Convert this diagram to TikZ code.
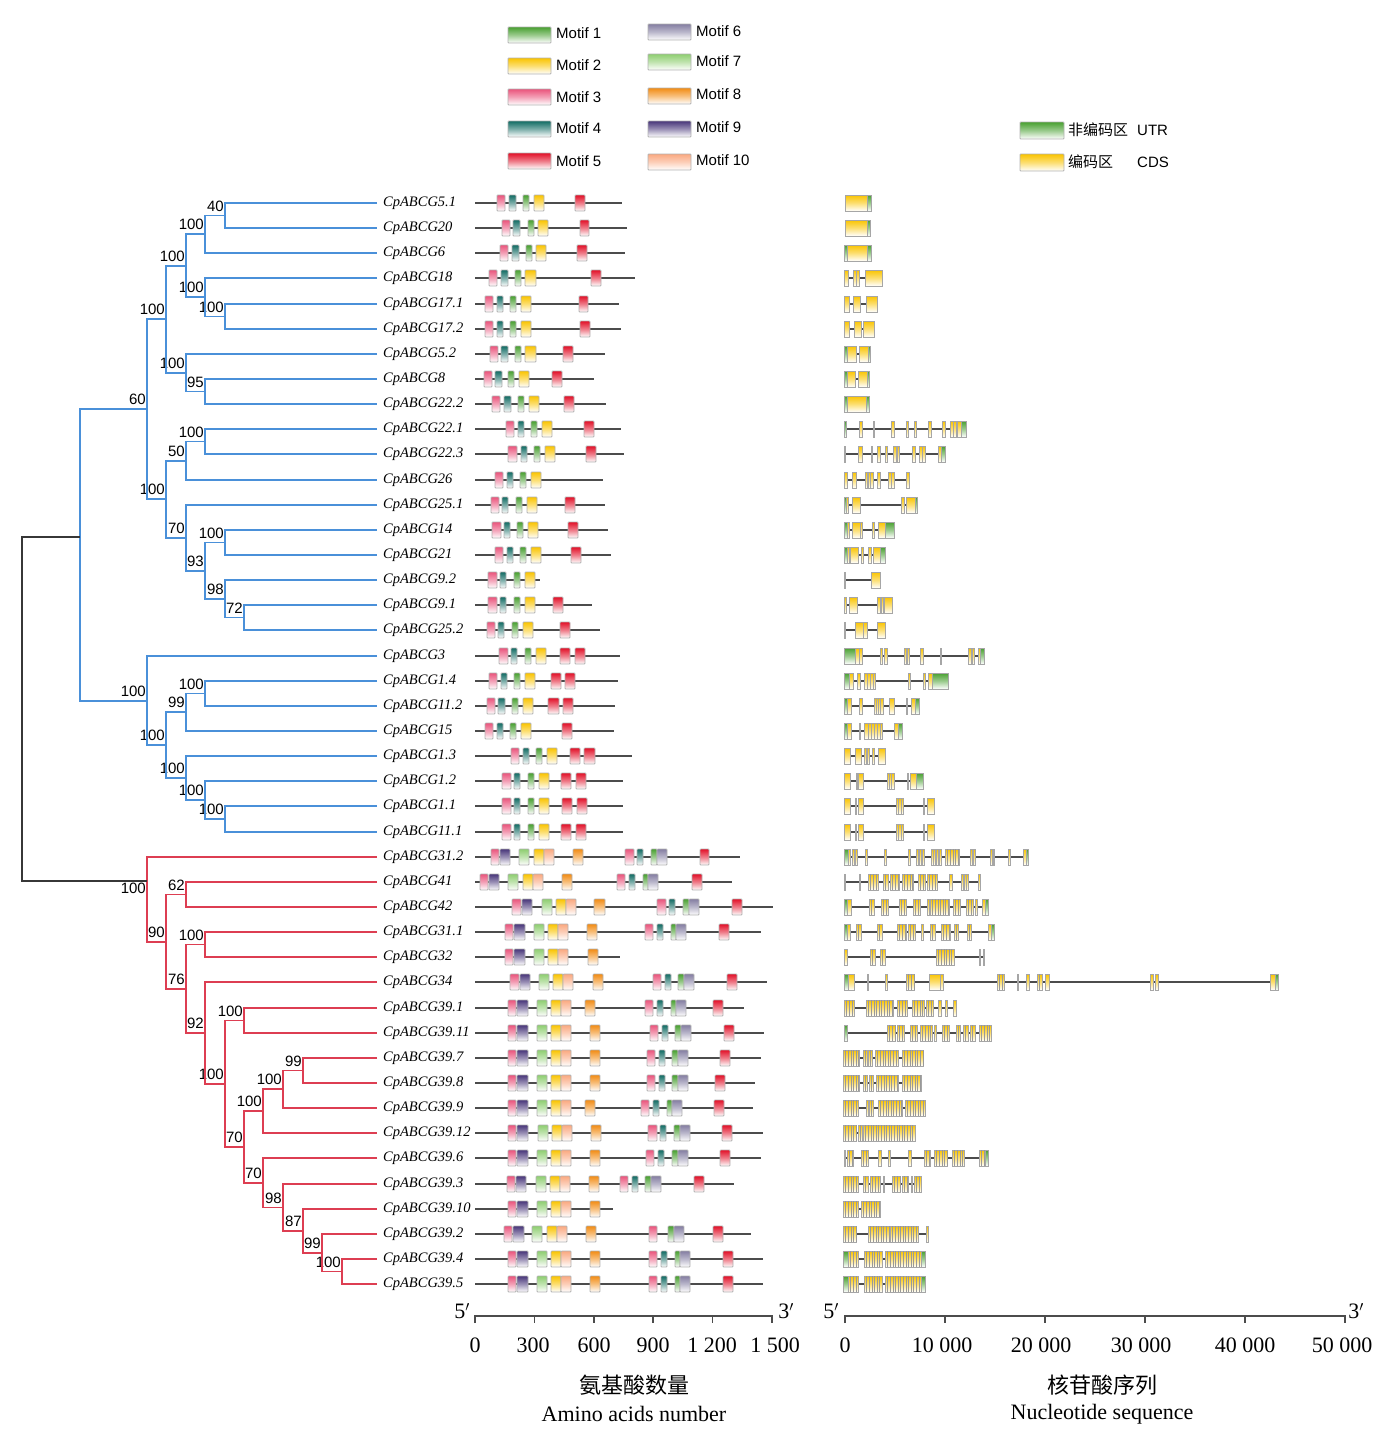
\documentclass[tikz,border=0pt]{standalone}
\usepackage{fontspec}
\setmainfont{Liberation Serif}
\setsansfont{Liberation Sans}
\newfontfamily\cjk{Noto Sans CJK SC}
\usepackage{tikz}

\definecolor{treeblue}{RGB}{74,144,217}
\definecolor{treered}{RGB}{221,62,82}
\definecolor{treeroot}{RGB}{55,55,55}
\definecolor{mc1}{RGB}{72,160,48}
\definecolor{mc2}{RGB}{250,196,0}
\definecolor{mc3}{RGB}{234,84,124}
\definecolor{mc4}{RGB}{18,108,100}
\definecolor{mc5}{RGB}{226,16,40}
\definecolor{mc6}{RGB}{132,126,162}
\definecolor{mc7}{RGB}{142,206,112}
\definecolor{mc8}{RGB}{242,140,20}
\definecolor{mc9}{RGB}{72,54,122}
\definecolor{mc10}{RGB}{250,168,128}
\definecolor{utr}{RGB}{72,160,48}
\definecolor{cds}{RGB}{250,196,0}

\tikzset{
  blu/.style={draw=treeblue, line width=1.8pt},
  rd/.style={draw=treered, line width=1.8pt},
  rt/.style={draw=treeroot, line width=1.8pt},
  leaf/.style={anchor=west, inner xsep=6pt, inner ysep=0pt, font=\fontsize{14.5}{16}\selectfont\itshape},
  bs/.style={anchor=south east, inner sep=0pt, xshift=-1pt, yshift=4pt, font=\sffamily\fontsize{15}{17}\selectfont},
  bsb/.style={anchor=north east, inner sep=0pt, xshift=-1pt, yshift=-2pt, font=\sffamily\fontsize{15}{17}\selectfont},
  pline/.style={draw=black!70, line width=2pt},
  gline/.style={draw=black!70, line width=2pt},
  mbox/.style={draw=black!30, line width=0.8pt, rounded corners=0.8pt},
  exon/.style={draw=black!35, line width=0.7pt},
  stripe/.style={draw=black!40, line width=0.6pt},
  axisline/.style={draw=black!70, line width=1.5pt},
  legtext/.style={anchor=west, inner sep=0pt, font=\sffamily\fontsize{15}{17}\selectfont},
  scaletext/.style={inner sep=0pt, font=\fontsize{22}{26}\selectfont},
  titletext/.style={inner sep=0pt, font=\cjk\fontsize{22}{26}\selectfont},
}

% protein line with motifs
\newcommand{\prot}[3]{%
  \draw[pline] (475,#1) -- (#2,#1);
  \foreach \ty/\xa/\xb in {#3}
    \draw[mbox, top color=mc\ty, bottom color=white, middle color=mc\ty!55] (\xa,#1-8) rectangle (\xb,#1+8);
}
% gene line, exons and packed exon blocks
\newcommand{\gene}[2]{\draw[gline] (845,#1) -- (#2,#1);}
\newcommand{\exons}[2]{%
  \foreach \ty/\xa/\xb in {#2}
    \draw[exon, top color=\ty, bottom color=white, middle color=\ty!55] (\xa,#1-8) rectangle (\xb,#1+8);
}
\newcommand{\dense}[2]{%
  \foreach \xa/\xb in {#2}{
    \draw[exon, top color=cds, bottom color=white, middle color=cds!55] (\xa,#1-8) rectangle (\xb,#1+8);
    \pgfmathtruncatemacro{\nst}{(\xb-\xa)/2.6}
    \foreach \kk in {1,...,\nst}
      \draw[stripe] ({\xa+2.6*\kk},#1-8) -- ({\xa+2.6*\kk},#1+8);
  }
}

\begin{document}
\begin{tikzpicture}[x=1pt,y=-1pt]
    \useasboundingbox (0,0) rectangle (1386,1443);

    % motif legend
    \draw[mbox, top color=mc1, bottom color=white, middle color=mc1!55] (508,27) rectangle (551,43);
    \node[legtext] at (556,33) {Motif 1};
    \draw[mbox, top color=mc2, bottom color=white, middle color=mc2!55] (508,58) rectangle (551,74);
    \node[legtext] at (556,65) {Motif 2};
    \draw[mbox, top color=mc3, bottom color=white, middle color=mc3!55] (508,89) rectangle (551,105);
    \node[legtext] at (556,97) {Motif 3};
    \draw[mbox, top color=mc4, bottom color=white, middle color=mc4!55] (508,121) rectangle (551,137);
    \node[legtext] at (556,128) {Motif 4};
    \draw[mbox, top color=mc5, bottom color=white, middle color=mc5!55] (508,153) rectangle (551,169);
    \node[legtext] at (556,161) {Motif 5};
    \draw[mbox, top color=mc6, bottom color=white, middle color=mc6!55] (648,24) rectangle (691,40);
    \node[legtext] at (696,31) {Motif 6};
    \draw[mbox, top color=mc7, bottom color=white, middle color=mc7!55] (648,54) rectangle (691,70);
    \node[legtext] at (696,61) {Motif 7};
    \draw[mbox, top color=mc8, bottom color=white, middle color=mc8!55] (648,88) rectangle (691,104);
    \node[legtext] at (696,94) {Motif 8};
    \draw[mbox, top color=mc9, bottom color=white, middle color=mc9!55] (648,121) rectangle (691,137);
    \node[legtext] at (696,127) {Motif 9};
    \draw[mbox, top color=mc10, bottom color=white, middle color=mc10!55] (648,154) rectangle (691,170);
    \node[legtext] at (696,160) {Motif 10};

    % gene structure legend
    \draw[mbox, top color=utr, bottom color=white, middle color=utr!55] (1020,122) rectangle (1064,139);
    \node[legtext, font=\cjk\fontsize{15}{17}\selectfont] at (1068,130) {非编码区};
    \node[legtext] at (1137,130) {UTR};
    \draw[mbox, top color=cds, bottom color=white, middle color=cds!55] (1020,154) rectangle (1064,171);
    \node[legtext, font=\cjk\fontsize{15}{17}\selectfont] at (1068,162) {编码区};
    \node[legtext] at (1137,162) {CDS};

    %%%%%%%%%%%%%%%%%%%%%%%%%%%%%%%%%%%%%%%%%%%%%%%%%%%%%%

    % gene names
    \node[leaf] (cp5p1) at (377,203) {CpABCG5.1};
    \node[leaf] (cp20) at (377,228) {CpABCG20};
    \node[leaf] (cp6) at (377,253) {CpABCG6};
    \node[leaf] (cp18) at (377,278) {CpABCG18};
    \node[leaf] (cp17p1) at (377,304) {CpABCG17.1};
    \node[leaf] (cp17p2) at (377,329) {CpABCG17.2};
    \node[leaf] (cp5p2) at (377,354) {CpABCG5.2};
    \node[leaf] (cp8) at (377,379) {CpABCG8};
    \node[leaf] (cp22p2) at (377,404) {CpABCG22.2};
    \node[leaf] (cp22p1) at (377,429) {CpABCG22.1};
    \node[leaf] (cp22p3) at (377,454) {CpABCG22.3};
    \node[leaf] (cp26) at (377,480) {CpABCG26};
    \node[leaf] (cp25p1) at (377,505) {CpABCG25.1};
    \node[leaf] (cp14) at (377,530) {CpABCG14};
    \node[leaf] (cp21) at (377,555) {CpABCG21};
    \node[leaf] (cp9p2) at (377,580) {CpABCG9.2};
    \node[leaf] (cp9p1) at (377,605) {CpABCG9.1};
    \node[leaf] (cp25p2) at (377,630) {CpABCG25.2};
    \node[leaf] (cp3) at (377,656) {CpABCG3};
    \node[leaf] (cp1p4) at (377,681) {CpABCG1.4};
    \node[leaf] (cp11p2) at (377,706) {CpABCG11.2};
    \node[leaf] (cp15) at (377,731) {CpABCG15};
    \node[leaf] (cp1p3) at (377,756) {CpABCG1.3};
    \node[leaf] (cp1p2) at (377,781) {CpABCG1.2};
    \node[leaf] (cp1p1) at (377,806) {CpABCG1.1};
    \node[leaf] (cp11p1) at (377,832) {CpABCG11.1};
    \node[leaf] (cp31p2) at (377,857) {CpABCG31.2};
    \node[leaf] (cp41) at (377,882) {CpABCG41};
    \node[leaf] (cp42) at (377,907) {CpABCG42};
    \node[leaf] (cp31p1) at (377,932) {CpABCG31.1};
    \node[leaf] (cp32) at (377,957) {CpABCG32};
    \node[leaf] (cp34) at (377,982) {CpABCG34};
    \node[leaf] (cp39p1) at (377,1008) {CpABCG39.1};
    \node[leaf] (cp39p11) at (377,1033) {CpABCG39.11};
    \node[leaf] (cp39p7) at (377,1058) {CpABCG39.7};
    \node[leaf] (cp39p8) at (377,1083) {CpABCG39.8};
    \node[leaf] (cp39p9) at (377,1108) {CpABCG39.9};
    \node[leaf] (cp39p12) at (377,1133) {CpABCG39.12};
    \node[leaf] (cp39p6) at (377,1158) {CpABCG39.6};
    \node[leaf] (cp39p3) at (377,1184) {CpABCG39.3};
    \node[leaf] (cp39p10) at (377,1209) {CpABCG39.10};
    \node[leaf] (cp39p2) at (377,1234) {CpABCG39.2};
    \node[leaf] (cp39p4) at (377,1259) {CpABCG39.4};
    \node[leaf] (cp39p5) at (377,1284) {CpABCG39.5};

    % branch points
    \coordinate (b1) at (225,215.5);
    \coordinate (b2) at (205,234.3);
    \coordinate (b3) at (225,316.5);
    \coordinate (b4) at (205,297.3);
    \coordinate (b5) at (186,265.8);
    \coordinate (b6) at (205,391.5);
    \coordinate (b7) at (186,372.8);
    \coordinate (b8) at (166,319.3);
    \coordinate (b9) at (205,441.5);
    \coordinate (b10) at (186,460.8);
    \coordinate (b11) at (225,542.5);
    \coordinate (b12) at (244,617.5);
    \coordinate (b13) at (225,598.8);
    \coordinate (b14) at (205,570.6);
    \coordinate (b15) at (186,537.8);
    \coordinate (b16) at (166,499.3);
    \coordinate (b17) at (147,409.3);
    \coordinate (b18) at (205,693.5);
    \coordinate (b19) at (186,712.3);
    \coordinate (b20) at (225,819);
    \coordinate (b21) at (205,800);
    \coordinate (b22) at (186,778);
    \coordinate (b23) at (166,745.1);
    \coordinate (b24) at (147,700.6);
    \coordinate (b0) at (80,537);
    \coordinate (r16) at (342,1271.5);
    \coordinate (r15) at (322,1252.8);
    \coordinate (r14) at (303,1230.9);
    \coordinate (r13) at (283,1207.4);
    \coordinate (r12) at (303,1070.5);
    \coordinate (r11) at (283,1089.3);
    \coordinate (r10) at (263,1182.7);
    \coordinate (r9) at (263,1111.1);
    \coordinate (r8) at (244,1146.9);
    \coordinate (r7) at (244,1020.5);
    \coordinate (r6) at (225,1083.7);
    \coordinate (r5) at (205,1032.9);
    \coordinate (r4) at (205,944.5);
    \coordinate (r3) at (186,988.7);
    \coordinate (r2) at (186,894.5);
    \coordinate (r1) at (166,941.6);
    \coordinate (r0) at (147,881);
    \coordinate (root) at (22,709);

    % blue clade
    \draw[blu] (cp5p1) -| (b1) |- (cp20);     \node[bs] at (b1) {40};
    \draw[blu] (b1) -| (b2) |- (cp6);         \node[bs] at (b2) {100};
    \draw[blu] (cp17p1) -| (b3) |- (cp17p2);  \node[bs] at (b3) {100};
    \draw[blu] (cp18) -| (b4) |- (b3);        \node[bs] at (b4) {100};
    \draw[blu] (b2) -| (b5) |- (b4);          \node[bs] at (b5) {100};
    \draw[blu] (cp8) -| (b6) |- (cp22p2);     \node[bs] at (b6) {95};
    \draw[blu] (cp5p2) -| (b7) |- (b6);       \node[bs] at (b7) {100};
    \draw[blu] (b5) -| (b8) |- (b7);          \node[bs] at (b8) {100};
    \draw[blu] (cp22p1) -| (b9) |- (cp22p3);  \node[bs] at (b9) {100};
    \draw[blu] (b9) -| (b10) |- (cp26);       \node[bs] at (b10) {50};
    \draw[blu] (cp14) -| (b11) |- (cp21);     \node[bs] at (b11) {100};
    \draw[blu] (cp9p1) -| (b12) |- (cp25p2);  \node[bs] at (b12) {72};
    \draw[blu] (cp9p2) -| (b13) |- (b12);     \node[bs] at (b13) {98};
    \draw[blu] (b11) -| (b14) |- (b13);       \node[bs] at (b14) {93};
    \draw[blu] (cp25p1) -| (b15) |- (b14);    \node[bs] at (b15) {70};
    \draw[blu] (b10) -| (b16) |- (b15);       \node[bs] at (b16) {100};
    \draw[blu] (b8) -| (b17) |- (b16);        \node[bs] at (b17) {60};
    \draw[blu] (cp1p4) -| (b18) |- (cp11p2);  \node[bs] at (b18) {100};
    \draw[blu] (b18) -| (b19) |- (cp15);      \node[bs] at (b19) {99};
    \draw[blu] (cp1p1) -| (b20) |- (cp11p1);  \node[bs] at (b20) {100};
    \draw[blu] (cp1p2) -| (b21) |- (b20);     \node[bs] at (b21) {100};
    \draw[blu] (cp1p3) -| (b22) |- (b21);     \node[bs] at (b22) {100};
    \draw[blu] (b19) -| (b23) |- (b22);       \node[bs] at (b23) {100};
    \draw[blu] (cp3) -| (b24) |- (b23);       \node[bs] at (b24) {100};
    \draw[blu] (b17) -| (b0) |- (b24);

    % red clade
    \draw[rd] (cp39p4) -| (r16) |- (cp39p5);  \node[bs] at (r16) {100};
    \draw[rd] (cp39p2) -| (r15) |- (r16);     \node[bs] at (r15) {99};
    \draw[rd] (cp39p10) -| (r14) |- (r15);    \node[bs] at (r14) {87};
    \draw[rd] (cp39p3) -| (r13) |- (r14);     \node[bs] at (r13) {98};
    \draw[rd] (cp39p6) -| (r10) |- (r13);     \node[bs] at (r10) {70};
    \draw[rd] (cp39p7) -| (r12) |- (cp39p8);  \node[bs] at (r12) {99};
    \draw[rd] (r12) -| (r11) |- (cp39p9);     \node[bs] at (r11) {100};
    \draw[rd] (r11) -| (r9) |- (cp39p12);     \node[bs] at (r9) {100};
    \draw[rd] (r9) -| (r8) |- (r10);          \node[bs] at (r8) {70};
    \draw[rd] (cp39p1) -| (r7) |- (cp39p11);  \node[bs] at (r7) {100};
    \draw[rd] (r7) -| (r6) |- (r8);           \node[bs] at (r6) {100};
    \draw[rd] (cp34) -| (r5) |- (r6);         \node[bs] at (r5) {92};
    \draw[rd] (cp31p1) -| (r4) |- (cp32);     \node[bs] at (r4) {100};
    \draw[rd] (r4) -| (r3) |- (r5);           \node[bs] at (r3) {76};
    \draw[rd] (cp41) -| (r2) |- (cp42);       \node[bs] at (r2) {62};
    \draw[rd] (r2) -| (r1) |- (r3);           \node[bs] at (r1) {90};
    \draw[rd] (cp31p2) -| (r0) |- (r1);       \node[bsb] at (r0) {100};

    % root
    \draw[rt] (b0) -| (root) |- (r0);

    %%%%%%%%%%%%%%%%%%%%%%%%%%%%%%%%%%%%%%%%%%%%%%%%%%%%%%

    % conserved motifs
    \prot{203}{622}{3/497/505, 4/509/516, 1/523/529, 2/534/544, 5/575/585}
    \prot{228}{627}{3/502/510, 4/513/520, 1/528/534, 2/538/548, 5/580/589}
    \prot{253}{625}{3/500/508, 4/512/519, 1/526/532, 2/536/546, 5/577/587}
    \prot{278}{635}{3/489/497, 4/501/508, 1/515/521, 2/525/536, 5/591/601}
    \prot{304}{619}{3/485/493, 4/497/503, 1/510/516, 2/521/531, 5/579/588}
    \prot{329}{621}{3/485/493, 4/497/503, 1/510/516, 2/521/531, 5/580/590}
    \prot{354}{605}{3/490/498, 4/501/508, 1/515/521, 2/525/536, 5/563/573}
    \prot{379}{594}{3/484/492, 4/495/502, 1/508/514, 2/519/529, 5/552/562}
    \prot{404}{606}{3/492/500, 4/504/511, 1/518/524, 2/529/539, 5/564/574}
    \prot{429}{621}{3/506/514, 4/518/524, 1/531/537, 2/542/552, 5/584/594}
    \prot{454}{624}{3/508/517, 4/521/527, 1/534/540, 2/545/555, 5/586/596}
    \prot{480}{603}{3/495/503, 4/507/513, 1/520/526, 2/531/541}
    \prot{505}{605}{3/491/499, 4/502/508, 1/516/522, 2/527/537, 5/565/575}
    \prot{530}{608}{3/492/501, 4/504/510, 1/517/523, 2/528/538, 5/568/578}
    \prot{555}{611}{3/495/503, 4/507/513, 1/520/526, 2/531/541, 5/571/581}
    \prot{580}{540}{3/488/497, 4/500/506, 1/514/520, 2/525/535}
    \prot{605}{592}{3/488/497, 4/500/506, 1/514/520, 2/525/535, 5/553/563}
    \prot{630}{600}{3/487/495, 4/498/504, 1/512/518, 2/523/533, 5/560/570}
    \prot{656}{620}{3/499/508, 4/511/517, 1/525/531, 2/536/546, 5/560/570, 5/575/585}
    \prot{681}{618}{3/489/497, 4/501/507, 1/514/520, 2/525/535, 5/551/561, 5/565/575}
    \prot{706}{615}{3/487/495, 4/498/505, 1/512/518, 2/523/533, 5/548/559, 5/563/573}
    \prot{731}{614}{3/485/493, 4/497/503, 1/510/516, 2/521/531, 5/562/572}
    \prot{756}{632}{3/511/519, 4/523/529, 1/536/542, 2/547/557, 5/570/580, 5/584/595}
    \prot{781}{623}{3/502/511, 4/514/520, 1/528/534, 2/539/549, 5/561/571, 5/576/586}
    \prot{806}{623}{3/502/511, 4/514/520, 1/528/534, 2/539/549, 5/562/572, 5/577/587}
    \prot{832}{623}{3/502/511, 4/514/520, 1/528/534, 2/539/549, 5/561/571, 5/576/586}
    \prot{857}{740}{3/491/499, 9/500/510, 7/519/529, 2/534/544, 10/544/554, 8/573/583, 3/625/634, 4/637/643, 1/651/657, 6/657/667, 5/700/709}
    \prot{882}{732}{3/480/488, 9/489/499, 7/508/518, 2/523/533, 10/533/543, 8/562/572, 3/617/625, 4/629/635, 1/643/648, 6/648/658, 5/692/702}
    \prot{907}{773}{3/512/521, 9/522/532, 7/542/552, 2/556/566, 10/566/576, 8/594/605, 3/657/666, 4/669/675, 1/683/689, 6/689/699, 5/732/742}
    \prot{932}{761}{3/505/513, 9/514/525, 7/534/544, 2/548/558, 10/558/568, 8/587/597, 3/645/653, 4/657/663, 1/671/676, 6/676/686, 5/719/729}
    \prot{957}{620}{3/505/513, 9/514/525, 7/534/544, 2/548/558, 10/558/568, 8/588/598}
    \prot{982}{767}{3/510/519, 9/520/530, 7/539/549, 2/553/563, 10/563/573, 8/593/603, 3/653/661, 4/665/671, 1/678/684, 6/684/694, 5/727/737}
    \prot{1008}{744}{3/508/516, 9/517/528, 7/537/547, 2/551/561, 10/561/571, 8/585/595, 3/645/653, 4/657/663, 1/671/676, 6/676/686, 5/713/723}
    \prot{1033}{764}{3/508/516, 9/517/528, 7/537/547, 2/551/561, 10/561/571, 8/590/600, 3/650/658, 4/662/668, 1/675/681, 6/681/691, 5/724/734}
    \prot{1058}{761}{3/508/516, 9/517/528, 7/537/547, 2/551/561, 10/561/571, 8/590/600, 3/647/655, 4/659/665, 1/672/678, 6/678/688, 5/720/730}
    \prot{1083}{755}{3/508/516, 9/517/528, 7/537/547, 2/551/561, 10/561/571, 8/590/600, 3/647/655, 4/659/665, 1/672/678, 6/678/688, 5/715/725}
    \prot{1108}{753}{3/508/516, 9/517/528, 7/537/547, 2/551/561, 10/561/571, 8/585/595, 3/641/649, 4/653/659, 1/667/672, 6/672/682, 5/714/724}
    \prot{1133}{763}{3/508/516, 9/517/528, 7/538/548, 2/552/562, 10/562/572, 8/591/601, 3/648/657, 4/660/666, 1/674/680, 6/680/690, 5/722/732}
    \prot{1158}{761}{3/508/516, 9/517/528, 7/537/547, 2/551/561, 10/561/571, 8/590/600, 3/646/654, 4/658/664, 1/672/678, 6/678/688, 5/720/730}
    \prot{1184}{734}{3/507/515, 9/516/526, 7/536/546, 2/550/560, 10/560/570, 8/589/599, 3/620/628, 4/632/638, 1/645/651, 6/651/661, 5/694/704}
    \prot{1209}{613}{3/508/516, 9/517/528, 7/537/547, 2/551/561, 10/561/571, 8/590/600}
    \prot{1234}{751}{3/504/512, 9/513/524, 7/532/542, 2/547/557, 10/557/567, 8/586/596, 3/649/657, 1/668/674, 6/674/684, 5/713/723}
    \prot{1259}{763}{3/508/516, 9/517/528, 7/537/547, 2/551/561, 10/561/571, 8/590/600, 3/649/657, 4/661/667, 1/675/680, 6/680/690, 5/723/733}
    \prot{1284}{763}{3/508/516, 9/517/528, 7/537/547, 2/551/561, 10/561/571, 8/590/600, 3/649/657, 4/661/667, 1/675/680, 6/680/690, 5/723/733}

    %%%%%%%%%%%%%%%%%%%%%%%%%%%%%%%%%%%%%%%%%%%%%%%%%%%%%%

    % gene structures
    \gene{203}{871} \exons{203}{cds/845/867, utr/867/871}
    \gene{228}{870} \exons{228}{cds/845/867, utr/867/870}
    \gene{253}{871} \exons{253}{utr/844/847, cds/847/867, utr/867/871}
    \gene{278}{882} \exons{278}{cds/844/848, cds/853/856, cds/856/859, cds/865/882}
    \gene{304}{877} \exons{304}{cds/844/849, cds/853/860, cds/866/877}
    \gene{329}{874} \exons{329}{cds/844/849, cds/854/861, cds/863/874}
    \gene{354}{870} \exons{354}{utr/844/847, cds/847/856, cds/859/868, utr/868/870}
    \gene{379}{869} \exons{379}{utr/844/847, cds/847/855, cds/858/867, utr/867/869}
    \gene{404}{869} \exons{404}{utr/844/847, cds/847/866, utr/866/869}
    \gene{429}{966} \exons{429}{utr/844/846, cds/859/862, cds/873/874, cds/891/894, cds/906/908, cds/914/916, cds/928/931, cds/942/945, cds/950/953, cds/953/956, cds/957/961, utr/961/966}
    \gene{454}{945} \exons{454}{cds/844/845, cds/858/862, cds/871/872, cds/877/880, cds/885/887, cds/893/896, cds/897/899, cds/912/915, cds/919/922, cds/922/925, cds/938/941, utr/941/945}
    \gene{480}{910} \exons{480}{cds/844/847, cds/852/856, cds/865/867, cds/868/870, cds/870/873, cds/877/880, cds/888/891, cds/891/894, cds/906/909}
    \gene{505}{917} \exons{505}{utr/844/846, cds/846/848, cds/852/860, cds/901/904, cds/906/915, utr/915/917}
    \gene{530}{894} \exons{530}{utr/844/847, cds/847/849, cds/852/860, cds/860/862, cds/872/874, cds/878/885, utr/885/894}
    \gene{555}{885} \exons{555}{utr/844/847, cds/847/849, cds/850/858, cds/861/863, cds/868/871, cds/873/880, utr/880/885}
    \gene{580}{880} \exons{580}{cds/844/845, cds/871/880}
    \gene{605}{892} \exons{605}{cds/844/846, cds/849/857, cds/877/880, cds/881/883, cds/884/892}
    \gene{630}{885} \exons{630}{cds/844/845, cds/855/863, cds/863/867, cds/877/885}
    \gene{656}{984} \exons{656}{utr/844/855, cds/855/859, cds/859/862, cds/880/882, cds/884/887, cds/904/906, cds/907/909, cds/920/923, cds/940/941, cds/968/971, cds/972/974, cds/978/980, utr/980/984}
    \gene{681}{948} \exons{681}{utr/844/849, cds/849/853, cds/857/860, cds/864/867, cds/867/870, cds/870/873, cds/873/875, cds/908/910, cds/923/925, cds/928/932, utr/932/948}
    \gene{706}{919} \exons{706}{utr/844/847, cds/847/851, cds/859/862, cds/874/876, cds/876/878, cds/878/880, cds/880/883, cds/889/894, cds/906/907, cds/911/915, utr/915/919}
    \gene{731}{902} \exons{731}{utr/844/847, cds/847/851, cds/859/860, cds/864/868, cds/868/871, cds/871/874, cds/874/877, cds/877/880, cds/880/882, cds/894/898, utr/898/902}
    \gene{756}{885} \exons{756}{cds/844/850, cds/855/861, cds/864/866, cds/867/869, cds/872/874, cds/878/885}
    \gene{781}{923} \exons{781}{cds/844/850, cds/856/857, cds/858/863, cds/887/889, cds/889/891, cds/891/894, cds/907/908, cds/910/916, utr/916/923}
    \gene{806}{934} \exons{806}{cds/844/850, cds/855/856, cds/858/863, cds/896/898, cds/898/901, cds/901/903, cds/923/924, cds/927/934}
    \gene{832}{934} \exons{832}{cds/844/850, cds/855/856, cds/858/863, cds/896/898, cds/898/901, cds/901/903, cds/923/924, cds/927/934}
    \gene{857}{1028} \exons{857}{utr/844/848, cds/848/850, cds/852/854, cds/855/857, cds/865/867, cds/884/886, cds/908/910, cds/916/918, cds/919/921, cds/922/924, cds/931/933, cds/933/935, cds/936/938, cds/939/941, cds/970/972, cds/973/975, cds/990/992, cds/993/994, cds/1008/1010, cds/1023/1026, utr/1026/1028}
    \dense{857}{945/959}
    \gene{882}{980} \exons{882}{cds/844/845, cds/859/860, cds/949/952, cds/961/963, cds/964/966, cds/966/968, cds/978/980}
    \dense{882}{868/878, 883/888, 890/899, 902/913, 918/925, 927/937}
    \gene{907}{988} \exons{907}{utr/844/847, cds/847/851, cds/927/929, cds/975/977, cds/982/985, utr/985/988}
    \dense{907}{869/874, 881/888, 899/906, 913/920, 930/949, 953/960, 966/973}
    \gene{932}{994} \exons{932}{utr/844/847, cds/847/850, cds/921/923, cds/988/991, utr/991/994}
    \dense{932}{856/861, 877/882, 897/906, 908/915, 930/935, 941/950, 954/958, 967/971}
    \gene{957}{985} \exons{957}{cds/844/847, cds/979/980, cds/983/984}
    \dense{957}{870/875, 880/885, 936/954}
    \gene{982}{1278} \exons{982}{utr/844/848, cds/848/854, cds/867/868, cds/885/887, cds/929/940, cds/940/943, cds/1017/1018, cds/1026/1029, cds/1045/1049, cds/1150/1153, cds/1155/1158, cds/1270/1275, utr/1275/1278}
    \dense{982}{906/914, 997/1004, 1037/1042}
    \gene{1008}{956} \exons{1008}{cds/938/941, cds/945/947, cds/953/956}
    \dense{1008}{844/854, 866/893, 897/907, 912/924, 926/933}
    \gene{1033}{992} \exons{1033}{utr/844/847, cds/934/936}
    \dense{1033}{887/895, 897/904, 910/917, 920/932, 942/949, 956/960, 963/968, 970/975, 979/991}
    \gene{1058}{924} \dense{1058}{843/859, 863/867, 868/872, 875/898, 902/923}
    \gene{1083}{922} \dense{1083}{843/859, 863/867, 869/873, 876/898, 902/921}
    \gene{1108}{926} \dense{1108}{843/858, 869/873, 878/902, 905/925} \exons{1108}{cds/866/868}
    \gene{1133}{916} \dense{1133}{843/856, 858/862, 863/915}
    \gene{1158}{988} \exons{1158}{cds/844/845, cds/878/881, cds/888/890, cds/908/911, utr/985/988}
    \dense{1158}{847/853, 861/868, 924/930, 934/947, 952/964, 979/985}
    \gene{1184}{922} \exons{1184}{cds/883/884, cds/911/912}
    \dense{1184}{843/858, 863/868, 870/880, 892/900, 902/908, 914/921}
    \gene{1209}{880} \dense{1209}{843/858, 861/880}
    \gene{1234}{928} \dense{1234}{843/856, 868/890, 890/918} \exons{1234}{cds/926/928}
    \gene{1259}{925} \exons{1259}{utr/843/848, utr/921/925}
    \dense{1259}{848/858, 864/882, 885/921}
    \gene{1284}{925} \exons{1284}{utr/843/848, utr/921/925}
    \dense{1284}{848/858, 864/882, 885/921}

    %%%%%%%%%%%%%%%%%%%%%%%%%%%%%%%%%%%%%%%%%%%%%%%%%%%%%%

    % amino acid scale
    \draw[axisline] (475,1323) -- (475,1316) -- (772,1316) -- (772,1323);
    \foreach \x in {534.4,593.8,653.2,712.6} \draw[axisline] (\x,1316) -- (\x,1323);
    \node[scaletext] at (462,1311) {5$'$};
    \node[scaletext] at (786,1311) {3$'$};
    \node[scaletext] at (475,1345) {0};
    \node[scaletext] at (533,1345) {300};
    \node[scaletext] at (594,1345) {600};
    \node[scaletext] at (653,1345) {900};
    \node[scaletext] at (712,1345) {1 200};
    \node[scaletext] at (775,1345) {1 500};
    \node[titletext] at (634,1385) {氨基酸数量};
    \node[scaletext] at (634,1414) {Amino acids number};

    % nucleotide scale
    \draw[axisline] (845,1323) -- (845,1316) -- (1345,1316) -- (1345,1323);
    \foreach \x in {945,1045,1145,1245} \draw[axisline] (\x,1316) -- (\x,1323);
    \node[scaletext] at (831,1311) {5$'$};
    \node[scaletext] at (1356,1311) {3$'$};
    \node[scaletext] at (845,1345) {0};
    \node[scaletext] at (942,1345) {10 000};
    \node[scaletext] at (1041,1345) {20 000};
    \node[scaletext] at (1141,1345) {30 000};
    \node[scaletext] at (1245,1345) {40 000};
    \node[scaletext] at (1342,1345) {50 000};
    \node[titletext] at (1102,1385) {核苷酸序列};
    \node[scaletext] at (1102,1414) {Nucleotide sequence};

\end{tikzpicture}
\end{document}
